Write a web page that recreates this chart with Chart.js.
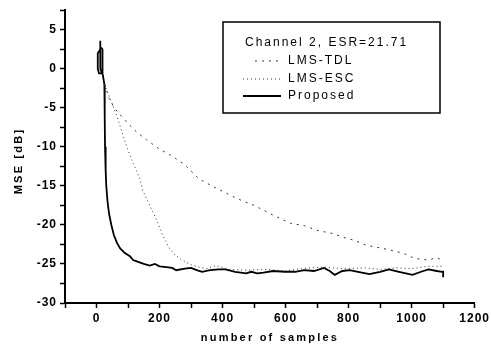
<!DOCTYPE html>
<html>
<head>
<meta charset="utf-8">
<script src="https://cdn.jsdelivr.net/npm/chart.js@4.4.1/dist/chart.umd.min.js"></script>
<style>
  html, body { margin: 0; padding: 0; background: #fff; }
  #wrap { width: 491px; height: 349px; position: relative; }
</style>
</head>
<body>
<div id="wrap"><canvas id="mseChart" width="491" height="349"></canvas></div>
<script>
// values
const legendTitle = 'Channel 2, ESR=21.71';
const seriesNames = ['LMS-TDL', 'LMS-ESC', 'Proposed'];

const tdlX = [25, 40, 56, 75, 100, 130, 159, 200, 241, 280, 325, 380, 450, 500, 553, 616, 660, 700, 750, 784, 820, 856, 919, 972, 1010, 1053, 1080, 1100];
const tdlY = [-2, -3.8, -5, -5.9, -7.0, -8.2, -9.1, -10.3, -11.2, -12.3, -14.1, -15.3, -16.7, -17.5, -18.6, -19.8, -20.1, -20.7, -21.1, -21.6, -22.0, -22.6, -23.1, -23.6, -24.3, -24.5, -24.2, -24.6];

const escX = [25, 45, 65, 80, 97, 115, 138, 147, 170, 191, 210, 231, 250, 272, 300, 325, 350, 378, 420, 480, 540, 600, 650, 720, 780, 850, 900, 950, 1000, 1050, 1100];
const escY = [-2, -4, -6.1, -8, -10.1, -12, -14.1, -15.6, -17.6, -19.4, -21.3, -23, -23.9, -24.5, -25.1, -25.4, -25.6, -25.2, -25.7, -25.8, -25.7, -25.9, -25.6, -25.4, -25.6, -25.5, -25.7, -25.5, -25.6, -25.3, -25.3];

const propX = [12, 12, 4, 4, 8, 18, 19, 19, 12, 12, 20, 25, 26, 27, 29, 31, 35, 40, 47, 55, 65, 75, 90, 106, 116, 130, 150, 169, 185, 200, 222, 240, 253, 280, 300, 318, 335, 360, 388, 409, 440, 475, 491, 510, 530, 560, 597, 630, 659, 690, 722, 740, 756, 780, 803, 830, 866, 900, 928, 960, 1003, 1030, 1053, 1080, 1097, 1100, 1100];
const propY = [3.6, 2.5, 2, 0, -0.6, -0.6, 0, 2.5, 2.8, 0, -0.8, -2, -6, -10, -13, -15, -17, -18.6, -20, -21.3, -22.3, -23, -23.6, -24, -24.5, -24.7, -25.0, -25.2, -25.0, -25.3, -25.4, -25.5, -25.8, -25.6, -25.5, -25.8, -26, -25.8, -25.7, -25.7, -26.0, -26.2, -26.0, -26.2, -26.1, -25.9, -26.0, -26.0, -25.8, -25.9, -25.5, -25.9, -26.4, -25.9, -25.8, -26.0, -26.3, -26.0, -25.7, -26.0, -26.4, -26.0, -25.7, -25.9, -26.0, -26.0, -26.7];

const xMin = -100, xMax = 1200, xStep = 100;
const yMin = -30, yMax = 7.5, yStep = 2.5;

function toPoints(xs, ys) {
    return xs.map((x, i) => ({ x: x, y: ys[i] }));
}

const FAMILY = '"Liberation Sans", Arial, sans-serif';
const LEGEND_FONT = '12px ' + FAMILY;
const TITLE_FONT = 'bold 11px ' + FAMILY;

// box legend drawn inside the plot, like the original
const boxLegend = {
    id: 'boxLegend',
    afterDraw(chart) {
        const ctx = chart.ctx;
        ctx.save();
        ctx.strokeStyle = '#000';
        ctx.lineWidth = 1.5;
        ctx.strokeRect(223, 22, 217, 91);
        ctx.fillStyle = '#000';
        ctx.font = LEGEND_FONT;
        ctx.letterSpacing = '2px';
        ctx.textBaseline = 'middle';
        ctx.fillText(legendTitle, 245, 43);
        const rows = [61, 79, 96];
        const starts = [255, 243, 243];
        chart.data.datasets.forEach((ds, i) => {
            ctx.letterSpacing = '0px';
            ctx.strokeStyle = ds.borderColor;
            ctx.lineWidth = ds.borderWidth;
            ctx.setLineDash(ds.borderDash || []);
            ctx.beginPath();
            ctx.moveTo(starts[i], rows[i]);
            ctx.lineTo(281, rows[i]);
            ctx.stroke();
            ctx.setLineDash([]);
            ctx.letterSpacing = '2px';
            ctx.fillText(ds.label, 288, rows[i]);
        });
        ctx.restore();
    }
};

// axis titles
const axisTitles = {
    id: 'axisTitles',
    afterDraw(chart) {
        const ctx = chart.ctx;
        ctx.save();
        ctx.fillStyle = '#000';
        ctx.font = TITLE_FONT;
        ctx.letterSpacing = '2.2px';
        ctx.textAlign = 'center';
        ctx.textBaseline = 'middle';
        ctx.fillText('number of samples', 270, 338);
        ctx.translate(19, 161);
        ctx.rotate(-Math.PI / 2);
        ctx.fillText('MSE [dB]', 0, 0);
        ctx.restore();
    }
};

const tickSpacing = {
    id: 'tickSpacing',
    beforeDraw(chart) { chart.ctx.letterSpacing = '1px'; }
};

document.addEventListener('DOMContentLoaded', function () {
    const ctx = document.getElementById('mseChart');
    new Chart(ctx, {
        type: 'line',
        data: {
            datasets: [
                {
                    label: seriesNames[0],
                    data: toPoints(tdlX, tdlY),
                    borderColor: '#333',
                    borderWidth: 1,
                    borderDash: [2, 5],
                    pointRadius: 0,
                    tension: 0
                },
                {
                    label: seriesNames[1],
                    data: toPoints(escX, escY),
                    borderColor: '#333',
                    borderWidth: 1,
                    borderDash: [1, 3],
                    pointRadius: 0,
                    tension: 0
                },
                {
                    label: seriesNames[2],
                    data: toPoints(propX, propY),
                    borderColor: '#000',
                    borderWidth: 1.8,
                    pointRadius: 0,
                    tension: 0
                }
            ]
        },
        options: {
            responsive: false,
            animation: false,
            events: [],
            layout: { padding: { left: 0, right: 13, top: 8, bottom: 0 } },
            plugins: {
                legend: { display: false },
                tooltip: { enabled: false }
            },
            scales: {
                x: {
                    type: 'linear',
                    min: xMin,
                    max: xMax,
                    afterFit(scale) { scale.height = 46; },
                    border: { display: true, color: '#000', width: 2 },
                    grid: {
                        drawOnChartArea: false,
                        drawTicks: true,
                        tickLength: 5,
                        tickColor: '#000',
                        tickWidth: 1.5
                    },
                    ticks: {
                        stepSize: xStep,
                        color: '#000',
                        font: { family: FAMILY, size: 12, weight: 'bold' },
                        padding: 3,
                        maxRotation: 0,
                        autoSkip: false,
                        callback: v => (v % 200 === 0 ? v : '')
                    }
                },
                y: {
                    type: 'linear',
                    min: yMin,
                    max: yMax,
                    afterFit(scale) { scale.width = 65; },
                    border: { display: true, color: '#000', width: 2 },
                    grid: {
                        drawOnChartArea: false,
                        drawTicks: true,
                        tickLength: 5,
                        tickColor: '#000',
                        tickWidth: 1.5
                    },
                    ticks: {
                        stepSize: yStep,
                        color: '#000',
                        font: { family: FAMILY, size: 12, weight: 'bold' },
                        padding: 3,
                        autoSkip: false,
                        callback: v => (v % 5 === 0 ? v : '')
                    }
                }
            }
        },
        plugins: [tickSpacing, boxLegend, axisTitles]
    });
});
</script>
</body>
</html>
